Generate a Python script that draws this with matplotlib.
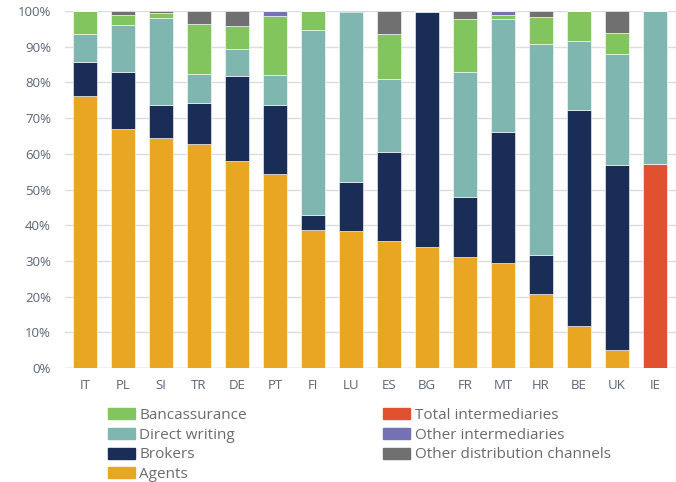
import matplotlib.pyplot as plt
from matplotlib.patches import Patch
import numpy as np

plt.rcParams['font.family'] = ['Open Sans', 'DejaVu Sans']

countries = ['IT', 'PL', 'SI', 'TR', 'DE', 'PT', 'FI', 'LU', 'ES', 'BG', 'FR', 'MT', 'HR', 'BE', 'UK', 'IE']

# shares of premiums by distribution channel, in %
agents = [76.2, 67.0, 64.5, 62.7, 58.0, 54.3, 38.8, 38.3, 35.5, 34.0, 31.0, 29.3, 20.7, 11.7, 5.0, 0.0]
brokers = [9.4, 16.0, 9.2, 11.6, 23.8, 19.5, 4.2, 13.7, 25.0, 65.7, 17.0, 36.7, 11.0, 60.7, 52.0, 0.0]
direct_writing = [8.0, 13.0, 24.3, 8.1, 7.6, 8.2, 51.8, 47.7, 20.5, 0.3, 34.9, 31.7, 59.2, 19.3, 31.1, 42.8]
bancassurance = [6.4, 3.0, 1.4, 14.1, 6.4, 16.6, 5.2, 0.0, 12.6, 0.0, 15.0, 1.2, 7.5, 8.3, 5.9, 0.0]
total_intermediaries = [0, 0, 0, 0, 0, 0, 0, 0, 0, 0, 0, 0, 0, 0, 0, 57.2]
other_intermediaries = [0, 0, 0, 0, 0, 1.4, 0, 0, 0, 0, 0, 1.1, 0, 0, 0, 0]
other_channels = [0, 1.0, 0.6, 3.5, 4.2, 0, 0, 0.3, 6.4, 0, 2.1, 0, 1.6, 0, 5.9, 0]

# stacking order, bottom to top
series = [
    ('Total intermediaries', total_intermediaries, '#e0512f'),
    ('Agents', agents, '#e8a623'),
    ('Brokers', brokers, '#1a2d57'),
    ('Direct writing', direct_writing, '#80b6b0'),
    ('Bancassurance', bancassurance, '#82c55e'),
    ('Other intermediaries', other_intermediaries, '#7472b4'),
    ('Other distribution channels', other_channels, '#707070'),
]

fig = plt.figure(figsize=(6.76, 4.82), dpi=100)
ax = fig.add_axes([0.096, 0.2365, 0.904, 0.7405])

x = np.arange(len(countries))
bottom = np.zeros(len(countries))
for name, vals, col in series:
    vals = np.array(vals, dtype=float)
    ax.bar(x, vals, bottom=bottom, width=0.64, color=col,
           edgecolor='white', linewidth=0.4, zorder=3)
    bottom += vals

ax.set_xlim(-0.53, 15.55)
ax.set_ylim(0, 100)
ax.set_yticks(np.arange(0, 101, 10))
ax.set_yticklabels([f'{v}%' for v in range(0, 101, 10)])
ax.set_xticks(x)
ax.set_xticklabels(countries)
ax.tick_params(axis='both', length=0, labelsize=9.5, colors='#5b6577')
ax.tick_params(axis='x', pad=8)
ax.tick_params(axis='y', pad=10)
ax.yaxis.grid(True, color='#dcdcdc', linewidth=1, zorder=0)
for s in ax.spines.values():
    s.set_visible(False)
ax.axhline(0, color='#d0d0d0', linewidth=1, zorder=2)

lookup = {name: col for name, _, col in series}
left_items = ['Bancassurance', 'Direct writing', 'Brokers', 'Agents']
right_items = ['Total intermediaries', 'Other intermediaries', 'Other distribution channels']

legend_kw = dict(frameon=False, fontsize=11, handlelength=1.75, handleheight=0.72,
                 handletextpad=0.3, labelspacing=0.3, borderaxespad=0, borderpad=0,
                 labelcolor='#6b6b6b')
leg1 = fig.legend([Patch(color=lookup[n]) for n in left_items], left_items,
                  loc='upper left', bbox_to_anchor=(0.160, 0.153), **legend_kw)
leg2 = fig.legend([Patch(color=lookup[n]) for n in right_items], right_items,
                  loc='upper left', bbox_to_anchor=(0.567, 0.153), **legend_kw)

fig.savefig('out.png', dpi=100)
